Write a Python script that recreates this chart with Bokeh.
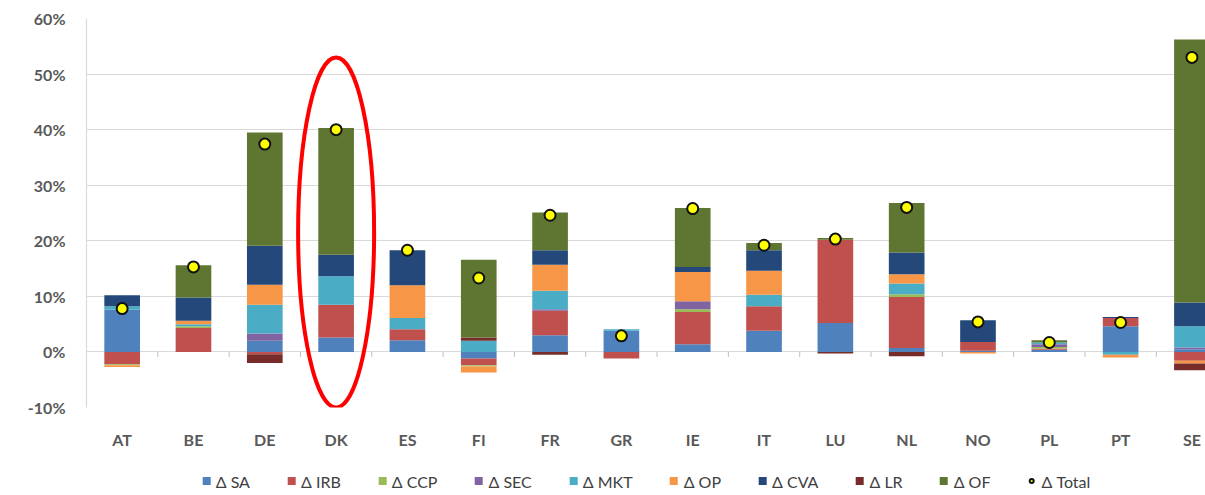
import numpy as np
from bokeh.plotting import figure
from bokeh.layouts import column
from bokeh.models import (ColumnDataSource, Range1d, FixedTicker, PrintfTickFormatter,
                          Legend, LegendItem)
from bokeh.embed import file_html
from bokeh.resources import INLINE

countries = ["AT", "BE", "DE", "DK", "ES", "FI", "FR", "GR", "IE", "IT", "LU", "NL", "NO", "PL", "PT", "SE"]

d_sa  = [7.6, 0.0, 2.0, 2.6, 2.1, -1.2, 3.0, 3.8, 1.4, 3.8, 5.2, 0.7, 0.2, 0.4, 4.6, 0.5]
d_irb = [-2.2, 4.3, -0.4, 5.9, 2.0, -1.2, 4.4, -1.2, 5.8, 4.4, 15.0, 9.2, 1.6, 0.2, 1.5, -1.6]
d_ccp = [-0.2, 0.3, 0.0, 0.0, 0.0, -0.2, 0.0, 0.0, 0.5, 0.0, 0.0, 0.5, 0.0, 0.3, 0.0, 0.0]
d_sec = [0.0, 0.0, 1.3, 0.0, 0.0, 0.0, 0.3, 0.0, 1.4, 0.0, 0.0, 0.0, 0.0, 0.5, 0.0, 0.3]
d_mkt = [0.6, 0.4, 5.2, 5.1, 2.0, 2.0, 3.3, 0.3, 0.0, 2.1, 0.0, 1.9, 0.0, 0.3, -0.5, 3.8]
d_op  = [-0.3, 0.6, 3.6, 0.0, 5.9, -1.1, 4.7, 0.0, 5.3, 4.3, 0.0, 1.7, -0.3, 0.0, -0.5, -0.5]
d_cva = [2.0, 4.2, 7.0, 3.9, 6.3, 0.0, 2.6, 0.0, 0.9, 3.7, 0.0, 3.9, 3.9, 0.0, 0.2, 4.3]
d_lr  = [0.0, 0.0, -1.6, 0.0, 0.0, 0.6, -0.5, 0.0, 0.0, 0.0, -0.3, -0.8, 0.0, 0.0, 0.0, -1.2]
d_of  = [0.0, 5.8, 20.4, 22.8, 0.0, 14.0, 6.8, 0.0, 10.6, 1.3, 0.3, 8.9, 0.0, 0.4, 0.0, 47.3]
d_total = [7.8, 15.3, 37.4, 40.0, 18.3, 13.3, 24.6, 2.9, 25.8, 19.2, 20.3, 26.0, 5.4, 1.7, 5.3, 53.0]

series_names = ["Δ SA", "Δ IRB", "Δ CCP", "Δ SEC", "Δ MKT", "Δ OP", "Δ CVA", "Δ LR", "Δ OF"]
series_values = [d_sa, d_irb, d_ccp, d_sec, d_mkt, d_op, d_cva, d_lr, d_of]
series_colors = ["#4F81BD", "#C0504D", "#9BBB59", "#8064A2", "#4BACC6", "#F79646", "#24487A", "#772C2A", "#5F7632"]
total_name = "Δ Total"

y_ticks = [-10, 0, 10, 20, 30, 40, 50, 60]
highlight = "DK"
highlight_center = 21.5

p = figure(width=1205, height=466, output_backend="svg", toolbar_location=None,
           x_range=Range1d(-0.5, 15.19), y_range=Range1d(-10, 60),
           min_border_left=86, min_border_right=0, min_border_top=18, min_border_bottom=59)
p.outline_line_color = None
p.background_fill_color = "white"

x = np.arange(len(countries))
pos_base = np.zeros(len(countries))
neg_base = np.zeros(len(countries))
for name, vals, col in zip(series_names, series_values, series_colors):
    v = np.array(vals, dtype=float)
    top = np.where(v >= 0, pos_base + v, neg_base)
    bottom = np.where(v >= 0, pos_base, neg_base + v)
    pos_base = pos_base + np.maximum(v, 0)
    neg_base = neg_base + np.minimum(v, 0)
    src = ColumnDataSource(dict(x=x, top=top, bottom=bottom))
    p.vbar(x="x", top="top", bottom="bottom", width=0.5, source=src,
           fill_color=col, line_color=None)

# category separator ticks on the zero line
p.segment(x0=x[:-1] + 0.5, x1=x[:-1] + 0.5, y0=np.zeros(len(x) - 1),
          y1=np.full(len(x) - 1, -0.9), line_color="#bfbfbf", line_width=1)

p.scatter(x=x, y=d_total, size=11, marker="circle", fill_color="#FFFF00",
          line_color="#111111", line_width=2)

# highlight ellipse
p.ellipse(x=[countries.index(highlight)], y=[highlight_center], width=76, height=350,
          width_units="screen", height_units="screen",
          fill_color=None, line_color="#FF0000", line_width=4)

p.xgrid.grid_line_color = None
p.ygrid.grid_line_color = "#d9d9d9"
p.ygrid.grid_line_width = 1.2
p.ygrid.ticker = FixedTicker(ticks=y_ticks)

p.yaxis.ticker = FixedTicker(ticks=y_ticks)
p.yaxis.formatter = PrintfTickFormatter(format="%d%%")
p.yaxis.axis_line_color = "#d9d9d9"
p.yaxis.axis_line_width = 1.2
p.yaxis.major_tick_line_color = None
p.yaxis.minor_tick_line_color = None
p.yaxis.major_tick_out = 0
p.yaxis.major_tick_in = 0
p.yaxis.major_label_standoff = 21
p.yaxis.major_label_text_font = "Lato"
p.yaxis.major_label_text_font_style = "bold"
p.yaxis.major_label_text_font_size = "16px"
p.yaxis.major_label_text_color = "#595959"

p.xaxis.ticker = FixedTicker(ticks=list(range(len(countries))))
p.xaxis.major_label_overrides = {i: c for i, c in enumerate(countries)}
p.xaxis.axis_line_color = None
p.xaxis.major_tick_line_color = None
p.xaxis.minor_tick_line_color = None
p.xaxis.major_tick_out = 0
p.xaxis.major_tick_in = 0
p.xaxis.major_label_standoff = 22
p.xaxis.major_label_text_font = "Lato"
p.xaxis.major_label_text_font_style = "bold"
p.xaxis.major_label_text_font_size = "16px"
p.xaxis.major_label_text_color = "#595959"

# legend strip (separate small figure so the legend sits below the axis labels);
# its proxy glyphs hold one point outside the strip's visible range
lg = figure(width=1205, height=29, output_backend="svg", toolbar_location=None,
            x_range=Range1d(0, 1), y_range=Range1d(0, 1), x_axis_type=None, y_axis_type=None,
            min_border_left=40, min_border_right=0, min_border_top=0, min_border_bottom=0)
lg.outline_line_color = None
lg.xgrid.grid_line_color = None
lg.ygrid.grid_line_color = None
items = []
for name, col in zip(series_names, series_colors):
    r = lg.vbar(x=[5], top=[5], bottom=[5], width=0.1, fill_color=col, line_color=None)
    items.append(LegendItem(label=name, renderers=[r]))
rt = lg.scatter(x=[5], y=[5], size=11, marker="circle", fill_color="#FFFF00",
                line_color="#111111", line_width=2)
items.append(LegendItem(label=total_name, renderers=[rt]))

legend = Legend(items=items, orientation="horizontal", location="center",
                border_line_color=None, background_fill_alpha=0,
                label_text_font="Lato", label_text_font_size="16px", label_text_color="#404040",
                label_height=18, glyph_width=10, glyph_height=10, spacing=36, label_standoff=5,
                padding=2, margin=0)
lg.add_layout(legend, "center")

layout = column(p, lg, spacing=0)
open("out.html", "w").write(file_html(layout, INLINE))
